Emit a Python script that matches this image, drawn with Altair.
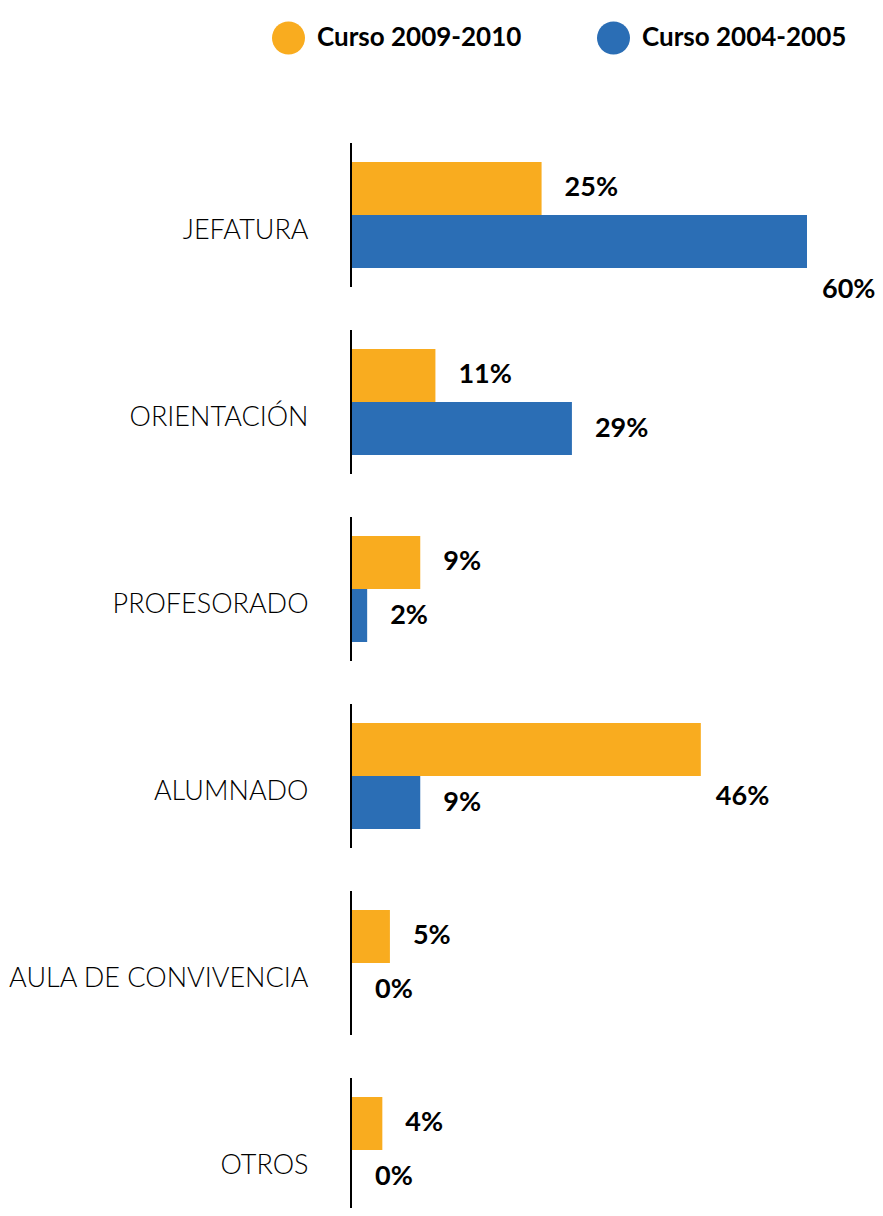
import altair as alt
import pandas as pd

categories = ["JEFATURA", "ORIENTACIÓN", "PROFESORADO", "ALUMNADO", "AULA DE CONVIVENCIA", "OTROS"]
series = ["Curso 2009-2010", "Curso 2004-2005"]
values_2009 = [25, 11, 9, 46, 5, 4]
values_2004 = [60, 29, 2, 9, 0, 0]
colors = ["#F9AC1F", "#2B6EB5"]

rows = []
for c, a, b in zip(categories, values_2009, values_2004):
    rows.append({"cat": c, "serie": series[0], "v": a})
    rows.append({"cat": c, "serie": series[1], "v": b})
df = pd.DataFrame(rows)
df["label"] = df["v"].astype(str) + "%"

y = alt.Y(
    "cat:N",
    sort=categories,
    axis=alt.Axis(title=None, ticks=False, domain=False, grid=False, labelPadding=44,
                  labelOffset=16,
                  labelFont="Lato", labelFontSize=27, labelFontWeight=300,
                  labelColor="black", labelLimit=400),
    scale=alt.Scale(paddingInner=0.23, paddingOuter=0.115, range=[0, 1122]),
)
yoff = alt.YOffset("serie:N", sort=series,
                   scale=alt.Scale(domain=series, paddingInner=0, paddingOuter=0.358))
x = alt.X("v:Q", axis=None, scale=alt.Scale(domain=[0, 60], nice=False))

base = alt.Chart(df)

bars = base.mark_bar().encode(
    x=x, y=y, yOffset=yoff,
    color=alt.Color(
        "serie:N", sort=series,
        scale=alt.Scale(domain=series, range=colors),
        legend=alt.Legend(title=None, orient="none", legendX=-80, legendY=-100,
                          direction="horizontal", symbolType="circle", symbolSize=1089,
                          symbolStrokeWidth=0, symbolOpacity=1, labelLimit=400,
                          labelFont="Lato", labelFontSize=26, labelFontWeight="bold",
                          labelColor="black", labelOffset=12, columnPadding=75),
    ),
)

text_style = dict(align="left", baseline="middle", font="Lato", fontSize=27,
                  fontWeight="bold", color="black")
labels = base.transform_filter("datum.v <= 40").mark_text(dx=23, **text_style).encode(
    x=x, y=y, yOffset=yoff, text="label:N")
labels_low = base.transform_filter("datum.v > 40").mark_text(dx=15, dy=48, **text_style).encode(
    x=x, y=y, yOffset=yoff, text="label:N")

axis_lines = alt.Chart(pd.DataFrame({"cat": categories})).mark_rect(color="black").encode(
    x=alt.value(-2), x2=alt.value(0), y=y)

chart = alt.layer(bars, axis_lines, labels, labels_low).properties(
    width=455, height=1086,
    autosize=alt.AutoSizeParams(type="none"),
    padding={"left": 344, "top": 113.5, "right": 68, "bottom": 0},
    background="white",
).configure_view(stroke=None)

chart.save("out.html", embed_options={"renderer": "svg", "actions": False})
